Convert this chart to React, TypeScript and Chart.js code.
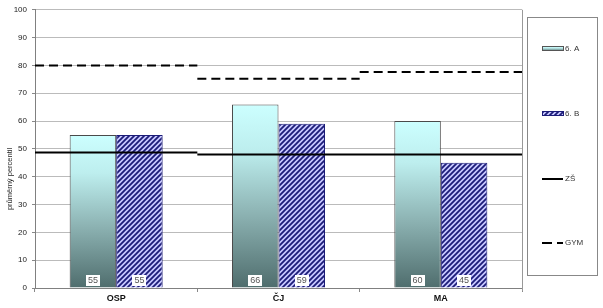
import React, { useEffect, useRef } from "react";
import { Chart, registerables } from "chart.js";

Chart.register(...registerables);

const categories = ["OSP", "ČJ", "MA"];
const classA = [55, 66, 60];
const classB = [55, 59, 45];
const zsAvg = [48.7, 48.0, 48.0];
const gymAvg = [80, 75.2, 77.6];
const yTicks = [0, 10, 20, 30, 40, 50, 60, 70, 80, 90, 100];
const seriesNames = ["6. A", "6. B", "ZŠ", "GYM"];
const yTitle = "průměrný percentil";

const FONT = '"Liberation Sans", Arial, sans-serif';
const W = 603;
const H = 308;

function segments(vals: number[]) {
  const out: { x: number; y: number | null }[] = [];
  vals.forEach((v, i) => {
    out.push({ x: i - 0.5, y: v });
    out.push({ x: i + 0.5, y: v });
    out.push({ x: i + 0.5, y: null });
  });
  return out;
}

function makeHatch(ctx: CanvasRenderingContext2D) {
  const p = 5;
  const c = document.createElement("canvas");
  c.width = p;
  c.height = p;
  const g = c.getContext("2d")!;
  g.fillStyle = "#c9c9ff";
  g.fillRect(0, 0, p, p);
  g.strokeStyle = "#1c1c78";
  g.lineWidth = 1.8;
  g.beginPath();
  g.moveTo(-1, p + 1);
  g.lineTo(p + 1, -1);
  g.moveTo(-1, 1);
  g.lineTo(1, -1);
  g.moveTo(p - 1, p + 1);
  g.lineTo(p + 1, p - 1);
  g.stroke();
  return ctx.createPattern(c, "repeat")!;
}

function gradA(ctx: CanvasRenderingContext2D, top: number, bottom: number) {
  const g = ctx.createLinearGradient(0, top, 0, bottom);
  g.addColorStop(0, "#ccffff");
  g.addColorStop(0.25, "#bdeeee");
  g.addColorStop(0.6, "#8cb2b2");
  g.addColorStop(1, "#4f6d6d");
  return g;
}

const customPlugin = {
  id: "customDraw",
  afterDatasetsDraw(chart: any) {
    const ctx: CanvasRenderingContext2D = chart.ctx;
    const y0 = chart.scales.y.getPixelForValue(0);
    [0, 1].forEach((di) => {
      const meta = chart.getDatasetMeta(di);
      const vals = di === 0 ? classA : classB;
      meta.data.forEach((bar: any, j: number) => {
        const cx = bar.x;
        const cy = y0 - 8;
        ctx.save();
        ctx.fillStyle = "#ffffff";
        ctx.fillRect(Math.round(cx - 7), Math.round(cy - 5.5), 14, 11);
        ctx.fillStyle = "#555555";
        ctx.font = "9px " + FONT;
        ctx.textAlign = "center";
        ctx.textBaseline = "middle";
        ctx.fillText(String(vals[j]), cx, cy + 0.5);
        ctx.restore();
      });
    });
  },
  afterDraw(chart: any) {
    const ctx: CanvasRenderingContext2D = chart.ctx;
    const area = chart.chartArea;
    ctx.save();
    // right border of plot
    ctx.strokeStyle = "#999999";
    ctx.lineWidth = 1;
    ctx.beginPath();
    ctx.moveTo(Math.round(area.right) + 0.5, area.top);
    ctx.lineTo(Math.round(area.right) + 0.5, area.bottom + 3);
    ctx.stroke();

    // y title
    ctx.save();
    ctx.translate(10, 179);
    ctx.rotate(-Math.PI / 2);
    ctx.font = "7.5px " + FONT;
    ctx.fillStyle = "#222222";
    ctx.textAlign = "center";
    ctx.textBaseline = "middle";
    ctx.fillText(yTitle, 0, 0);
    ctx.restore();

    // legend box
    ctx.strokeStyle = "#888888";
    ctx.lineWidth = 1;
    ctx.strokeRect(527.5, 17.5, 70, 258);
    const ys = [49, 114, 179, 243];
    const sx = 542;
    const sw = 21;
    ctx.fillStyle = gradA(ctx, ys[0] - 2, ys[0] + 2);
    ctx.fillRect(sx, ys[0] - 2, sw, 4);
    ctx.strokeStyle = "#555555";
    ctx.strokeRect(sx + 0.5, ys[0] - 2.5, sw, 4);
    ctx.fillStyle = makeHatch(ctx);
    ctx.fillRect(sx, ys[1] - 2, sw, 4);
    ctx.strokeStyle = "#1c1c78";
    ctx.strokeRect(sx + 0.5, ys[1] - 2.5, sw, 4);
    ctx.strokeStyle = "#000000";
    ctx.lineWidth = 2;
    ctx.beginPath();
    ctx.moveTo(sx, ys[2]);
    ctx.lineTo(sx + sw, ys[2]);
    ctx.stroke();
    ctx.setLineDash([10, 5]);
    ctx.beginPath();
    ctx.moveTo(sx, ys[3]);
    ctx.lineTo(sx + sw, ys[3]);
    ctx.stroke();
    ctx.setLineDash([]);
    ctx.font = "8px " + FONT;
    ctx.fillStyle = "#333333";
    ctx.textAlign = "left";
    ctx.textBaseline = "middle";
    seriesNames.forEach((n, i) => ctx.fillText(n, sx + sw + 2, ys[i]));
    ctx.restore();
  },
};

export default function App() {
  const ref = useRef<HTMLCanvasElement | null>(null);
  const ref2 = useRef<HTMLCanvasElement | null>(null);
  useEffect(() => {
    document.body.style.margin = "0";
    const canvas = ref.current!;
    const c2d = canvas.getContext("2d")!;
    const hatch = makeHatch(c2d);
    const chart = new Chart(canvas, {
      type: "bar",
      data: {
        labels: categories,
        datasets: [
          {
            label: seriesNames[0],
            data: classA,
            backgroundColor: (ctx: any) => {
              const ch = ctx.chart;
              if (!ch.chartArea || ctx.type !== "data") return "#aadddd";
              const top = ch.scales.y.getPixelForValue(ctx.raw);
              const bottom = ch.scales.y.getPixelForValue(0);
              return gradA(ch.ctx, top, bottom);
            },
            borderColor: "#4a4a4a",
            borderWidth: 1,
            categoryPercentage: 0.573,
            barPercentage: 1,
          } as any,
          {
            label: seriesNames[1],
            data: classB,
            backgroundColor: hatch,
            borderColor: "#1c1c78",
            borderWidth: 1,
            categoryPercentage: 0.573,
            barPercentage: 1,
          } as any,
        ],
      },
      options: {
        animation: false,
        responsive: false,
        devicePixelRatio: 1,
        layout: { padding: { left: 0, top: 7, right: 81, bottom: 0 } },
        plugins: {
          legend: { display: false },
          tooltip: { enabled: false },
        },
        scales: {
          x: {
            type: "category",
            offset: true,
            grid: {
              display: true,
              drawOnChartArea: false,
              drawTicks: true,
              tickLength: 4,
              offset: true,
              color: "#888888",
            },
            border: { display: true, color: "#808080", width: 1 },
            ticks: {
              color: "#111111",
              font: { family: FONT, size: 9, weight: "bold" },
              padding: 1,
            },
            afterFit: (s: any) => {
              s.height = 20;
            },
          },
          y: {
            min: 0,
            max: 100,
            afterBuildTicks: (s: any) => {
              s.ticks = yTicks.map((v) => ({ value: v }));
            },
            grid: {
              color: "#bbbbbb",
              tickColor: "#888888",
              tickLength: 3,
              lineWidth: 1,
            },
            border: { display: true, color: "#808080", width: 1 },
            ticks: {
              color: "#222222",
              font: { family: FONT, size: 8 },
              padding: 5,
            },
            afterFit: (s: any) => {
              s.width = 35;
            },
          },
        },
      },
      plugins: [customPlugin],
    } as any);

    const a = chart.chartArea;
    const lines = new Chart(ref2.current!, {
      type: "line",
      data: {
        datasets: [
          {
            label: seriesNames[2],
            data: segments(zsAvg),
            borderColor: "#000000",
            borderWidth: 2,
            pointRadius: 0,
            spanGaps: false,
            fill: false,
          },
          {
            label: seriesNames[3],
            data: segments(gymAvg),
            borderColor: "#000000",
            borderWidth: 2,
            borderDash: [9, 5],
            pointRadius: 0,
            spanGaps: false,
            fill: false,
          },
        ],
      },
      options: {
        animation: false,
        responsive: false,
        devicePixelRatio: 1,
        layout: {
          padding: { left: a.left, top: a.top, right: W - a.right, bottom: H - a.bottom },
        },
        plugins: { legend: { display: false }, tooltip: { enabled: false } },
        scales: {
          x: { type: "linear", min: -0.5, max: 2.5, display: false, offset: false },
          y: { min: 0, max: 100, display: false },
        },
      },
    } as any);
    return () => {
      lines.destroy();
      chart.destroy();
    };
  }, []);
  return (
    <div style={{ position: "relative", width: W, height: H }}>
      <canvas ref={ref} width={W} height={H} style={{ position: "absolute", left: 0, top: 0 }} />
      <canvas ref={ref2} width={W} height={H} style={{ position: "absolute", left: 0, top: 0 }} />
    </div>
  );
}
